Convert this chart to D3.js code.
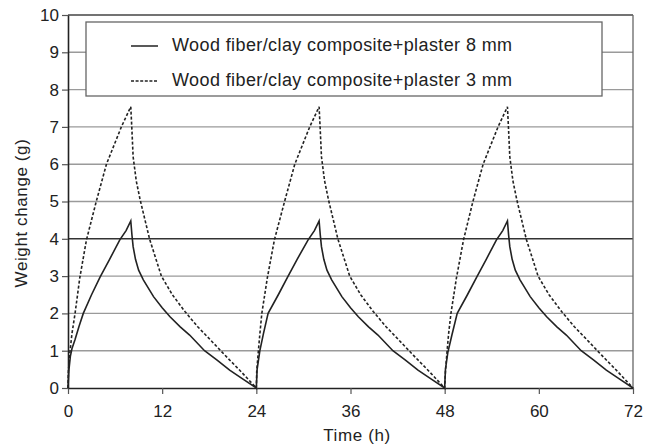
<!DOCTYPE html>
<html>
<head>
<meta charset="utf-8">
<script src="https://cdn.jsdelivr.net/npm/d3@7"></script>
<style>
  body { margin: 0; background: #fff; }
  text { font-family: "Liberation Sans", Arial, Helvetica, sans-serif; fill: #222; }
</style>
</head>
<body>
<div id="chart"></div>
<script>
// tick values
var xTicks = [0, 12, 24, 36, 48, 60, 72];
var yTicks = [0, 1, 2, 3, 4, 5, 6, 7, 8, 9, 10];

var seriesNames = ['Wood fiber/clay composite+plaster 8 mm', 'Wood fiber/clay composite+plaster 3 mm'];

// [time (h), weight change (g)]
var plaster8 = [
  [0, 0], [0.1, 0.45], [0.3, 0.85], [0.5, 1.05], [0.9, 1.3], [1.4, 1.65], [1.95, 2.0], [3, 2.5],
  [4.1, 2.98], [5.3, 3.45], [6.6, 3.97], [7.4, 4.22], [8, 4.48], [8.15, 4.1], [8.3, 3.79], [8.6, 3.45],
  [9, 3.16], [9.6, 2.9], [10.9, 2.45], [12, 2.15], [13, 1.91], [14.3, 1.64], [15.5, 1.42], [17.4, 1.0],
  [19, 0.75], [20.6, 0.48], [22.3, 0.24], [24, 0],
  [24.1, 0.5], [24.45, 1.0], [24.9, 1.45], [25.5, 2.0], [26.8, 2.5], [28, 2.98], [29.2, 3.45],
  [30.6, 3.97], [31.4, 4.22], [32, 4.48], [32.15, 4.1], [32.3, 3.79], [32.6, 3.45],
  [33, 3.16], [33.6, 2.9], [34.9, 2.45], [36, 2.15], [37, 1.91], [38.3, 1.64], [39.5, 1.42], [41.4, 1.0],
  [43, 0.75], [44.6, 0.48], [46.3, 0.24], [48, 0],
  [48.1, 0.5], [48.4, 0.95], [48.9, 1.4], [49.6, 2.0], [50.9, 2.5], [52.1, 2.98], [53.3, 3.45],
  [54.6, 3.97], [55.4, 4.22], [56, 4.48], [56.15, 4.1], [56.3, 3.79], [56.6, 3.45],
  [57, 3.16], [57.6, 2.9], [58.9, 2.45], [60, 2.15], [61, 1.91], [62.3, 1.64], [63.5, 1.42], [65.4, 1.0],
  [67, 0.75], [68.6, 0.48], [70.3, 0.24], [72, 0]
];

var plaster3 = [
  [0, 0], [0.05, 0.45], [0.25, 0.97], [0.5, 1.45], [0.9, 2.0], [1.5, 2.95], [2.35, 3.97], [3.6, 5.0],
  [4.9, 6.0], [6.8, 7.0], [8, 7.54], [8.15, 6.9], [8.3, 6.2], [8.7, 5.55], [9.2, 5.04], [10.4, 3.99],
  [11.9, 3.0], [13.3, 2.5], [14.9, 2.05], [16.5, 1.65], [18.1, 1.3], [20, 0.88], [22, 0.45], [24, 0],
  [24.05, 0.45], [24.25, 0.97], [24.45, 1.45], [24.7, 2.0], [25.4, 2.95], [26.3, 3.97], [27.6, 5.0],
  [28.9, 6.0], [30.8, 7.0], [32, 7.54], [32.15, 6.9], [32.3, 6.2], [32.7, 5.55], [33.2, 5.04], [34.4, 3.99],
  [35.9, 3.0], [37.3, 2.5], [38.9, 2.05], [40.5, 1.65], [42.1, 1.3], [44, 0.88], [46, 0.45], [48, 0],
  [48.1, 0.45], [48.3, 0.97], [48.5, 1.45], [48.8, 2.0], [49.5, 2.95], [50.4, 3.97], [51.6, 5.0],
  [52.9, 6.0], [54.8, 7.0], [56, 7.54], [56.15, 6.9], [56.3, 6.2], [56.7, 5.55], [57.2, 5.04], [58.4, 3.99],
  [59.9, 3.0], [61.3, 2.5], [62.9, 2.05], [64.5, 1.65], [66.1, 1.3], [68, 0.88], [70, 0.45], [72, 0]
];

var width = 655, height = 448;
var margin = { top: 15, right: 22, bottom: 60, left: 68 };
var w = width - margin.left - margin.right;
var h = height - margin.top - margin.bottom;

var svg = d3.select('#chart').append('svg')
  .attr('width', width)
  .attr('height', height);

var g = svg.append('g').attr('transform', 'translate(' + margin.left + ',' + margin.top + ')');

var x = d3.scaleLinear().domain([0, 72]).range([0, w]);
var y = d3.scaleLinear().domain([0, 10]).range([h, 0]);

// horizontal grid
g.append('g')
  .selectAll('line')
  .data(yTicks.filter(function (d) { return d > 0 && d < 10; }))
  .enter().append('line')
  .attr('x1', 0).attr('x2', w)
  .attr('y1', function (d) { return y(d); })
  .attr('y2', function (d) { return y(d); })
  .attr('stroke', function (d) { return d === 4 ? '#333' : '#9a9a9a'; })
  .attr('stroke-width', 1.4);

// frame top / right
g.append('line').attr('x1', 0).attr('x2', w).attr('y1', 0).attr('y2', 0)
  .attr('stroke', '#444').attr('stroke-width', 1.5);
g.append('line').attr('x1', w).attr('x2', w).attr('y1', 0).attr('y2', h)
  .attr('stroke', '#666').attr('stroke-width', 1.3);

var xAxis = g.append('g')
  .attr('transform', 'translate(0,' + h + ')')
  .call(d3.axisBottom(x).tickValues(xTicks).tickSize(6).tickPadding(11).tickSizeOuter(0));
var yAxis = g.append('g')
  .call(d3.axisLeft(y).tickValues(yTicks).tickSize(6).tickPadding(3).tickSizeOuter(0));

[xAxis, yAxis].forEach(function (ax) {
  ax.select('.domain').attr('stroke', '#222').attr('stroke-width', 1.6);
  ax.selectAll('.tick line').attr('stroke', '#555').attr('stroke-width', 1.2);
  ax.selectAll('.tick text').attr('font-size', 17).attr('fill', '#222')
    .style('font-family', '"Liberation Sans", Arial, sans-serif');
});

var line = d3.line()
  .x(function (d) { return x(d[0]); })
  .y(function (d) { return y(d[1]); });

// legend box
var lg = g.append('g');
lg.append('rect')
  .attr('x', 18).attr('y', 7).attr('width', 516).attr('height', 74)
  .attr('fill', '#fff').attr('stroke', '#666').attr('stroke-width', 1.3);
lg.append('line').attr('x1', 63).attr('x2', 90).attr('y1', 31).attr('y2', 31)
  .attr('stroke', '#222').attr('stroke-width', 1.5);
lg.append('line').attr('x1', 63).attr('x2', 90).attr('y1', 66).attr('y2', 66)
  .attr('stroke', '#222').attr('stroke-width', 1.5).attr('stroke-dasharray', '3,1.6');
lg.append('text').attr('x', 104).attr('y', 36).attr('font-size', 18)
  .attr('letter-spacing', 0.4).text(seriesNames[0]);
lg.append('text').attr('x', 104).attr('y', 71).attr('font-size', 18)
  .attr('letter-spacing', 0.4).text(seriesNames[1]);

g.append('path')
  .datum(plaster3)
  .attr('fill', 'none')
  .attr('stroke', '#222')
  .attr('stroke-width', 1.6)
  .attr('stroke-dasharray', '3,2')
  .attr('d', line);

g.append('path')
  .datum(plaster8)
  .attr('fill', 'none')
  .attr('stroke', '#222')
  .attr('stroke-width', 1.6)
  .attr('d', line);

// axis titles
svg.append('text')
  .attr('x', 357).attr('y', 441)
  .attr('text-anchor', 'middle')
  .attr('font-size', 17)
  .attr('letter-spacing', 0.6)
  .text('Time (h)');

svg.append('text')
  .attr('transform', 'translate(27,213) rotate(-90)')
  .attr('text-anchor', 'middle')
  .attr('font-size', 17)
  .attr('letter-spacing', 0.6)
  .text('Weight change (g)');
</script>
</body>
</html>
